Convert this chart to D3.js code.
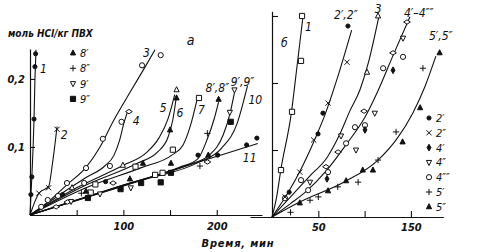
<!DOCTYPE html>
<html>
<head>
<meta charset="utf-8">
<script src="https://cdn.jsdelivr.net/npm/d3@7"></script>
<style>
  body { margin: 0; background: #fff; }
  svg text { font-family: "DejaVu Sans Condensed", "DejaVu Sans", sans-serif; font-style: italic; fill: #111; }
</style>
</head>
<body>
<svg width="490" height="252"></svg>
<script>
// ---- panel a: time (min) vs mol HCl / kg PVC ----
var curveA1 = [[0, 0], [1, 0.03], [2, 0.056], [4.3, 0.141], [5.3, 0.2], [6.4, 0.243]];
var curveA2 = [[0, 0], [9.6, 0.032], [20, 0.042], [24, 0.075], [29, 0.13]];
var curveA3 = [[0, 0], [20, 0.02], [40, 0.045], [60, 0.07], [75, 0.1], [90, 0.14], [107, 0.18], [123, 0.217], [134, 0.243]];
var curveA4 = [[0, 0], [30, 0.028], [60, 0.055], [80, 0.072], [90, 0.088], [96, 0.11], [100, 0.132], [104, 0.15]];
var curveA5 = [[0, 0], [50, 0.04], [100, 0.073], [125, 0.092], [138, 0.113], [148, 0.142], [155, 0.177]];
var curveA6 = [[0, 0], [60, 0.044], [115, 0.076], [137, 0.093], [148, 0.115], [153, 0.14], [157, 0.176]];
var curveA7 = [[0, 0], [60, 0.04], [120, 0.07], [152, 0.088], [164, 0.103], [172, 0.132], [179, 0.17]];
var curveA8 = [[0, 0], [100, 0.044], [160, 0.07], [180, 0.083], [190, 0.112], [197, 0.14], [202, 0.166]];
var curveA9 = [[0, 0], [100, 0.044], [170, 0.074], [192, 0.088], [207, 0.118], [214, 0.148], [219, 0.18]];
var curveA10 = [[0, 0], [120, 0.051], [180, 0.077], [205, 0.098], [222, 0.135], [233, 0.19]];
var curveA11 = [[0, 0], [244, 0.105]];

var circleA = [[12, 0.012], [19, 0.022], [39.6, 0.047], [60, 0.069], [78, 0.112], [120, 0.22], [140, 0.235], [98, 0.137], [85.6, 0.072], [58, 0.047], [30, 0.028]];
var diamondA = [[106, 0.152], [28, 0.012], [40, 0.019], [89, 0.047], [190, 0.078]];
var triUpA = [[157, 0.184], [99.5, 0.073], [45, 0.04]];
var triFillA = [[157, 0.172], [150, 0.125], [121, 0.076], [151, 0.076], [107, 0.053], [202, 0.17], [191, 0.088], [60, 0.035]];
var plusA = [[190, 0.12], [182, 0.072], [55, 0.032]];
var crossA = [[9.6, 0.032], [20, 0.04], [29, 0.126]];
var triDownA = [[219, 0.184], [214, 0.151], [108, 0.04], [44, 0.02], [75, 0.031]];
var squareA = [[181, 0.172], [113, 0.071], [153, 0.096], [134, 0.059], [142, 0.062], [70, 0.045], [65, 0.033]];
var squareFillA = [[215, 0.137], [62, 0.025], [97, 0.038], [119, 0.047], [140, 0.048], [151, 0.062]];
var dotA = [[1, 0.03], [2, 0.056], [4.3, 0.141], [5.3, 0.218], [6, 0.237], [180, 0.088], [201, 0.088], [232, 0.103], [243, 0.113], [81, 0.049], [35, 0.03]];

var labelsA = [["1", 10.7, 0.209], ["2", 33, 0.112], ["3", 121, 0.232], ["4", 110, 0.132], ["5", 139, 0.151],
  ["6", 157, 0.144], ["7", 180, 0.149], ["8′,8″", 188, 0.181], ["9′,9″", 215, 0.19], ["10", 234, 0.163], ["11", 228, 0.078]];
var legendA = [["triFill", "8′"], ["plus", "8″"], ["triDown", "9′"], ["squareFill", "9″"]];
var xTicksA = [50, 100, 150, 200];
var xLabelsA = [100, 200];
var yTicksA = [0.1, 0.2];

// ---- panel b ----
var curveB1 = [[0, 0], [5, 0.03], [9.7, 0.072], [20.5, 0.152], [27, 0.225], [33.5, 0.3]];
var curveB2 = [[0, 0], [18, 0.038], [30, 0.068], [45, 0.112], [57, 0.152], [70, 0.205], [86, 0.279]];
var curveB3 = [[0, 0], [20, 0.03], [40, 0.06], [60, 0.09], [72, 0.12], [84, 0.158], [95, 0.19], [104, 0.23], [115.5, 0.3]];
var curveB4 = [[0, 0], [20, 0.02], [36, 0.037], [58, 0.068], [80, 0.108], [100, 0.148], [115, 0.19], [131, 0.242], [149, 0.299]];
var curveB5 = [[0, 0], [31, 0.023], [79, 0.053], [114.5, 0.085], [135, 0.117], [152, 0.155], [165, 0.194], [177, 0.24]];

var squareB = [[9.7, 0.07], [21.6, 0.157], [31.3, 0.233], [32.4, 0.3]];
var dotB = [[82, 0.285], [55, 0.155], [49.7, 0.124], [18.5, 0.037]];
var crossB = [[81, 0.231], [60.5, 0.17], [45, 0.115], [30, 0.067], [14, 0.03]];
var triUpB = [[114.5, 0.3], [102.6, 0.216]];
var lensB = [[145.8, 0.291], [130.7, 0.245], [99.4, 0.158], [71.3, 0.097], [58.3, 0.075]];
var circleB = [[141.5, 0.239], [120, 0.222], [100.4, 0.137], [89.6, 0.134], [80, 0.11], [60.5, 0.067], [39, 0.04], [31.3, 0.055], [14, 0.028]];
var triDownB = [[141.5, 0.267], [111, 0.155], [74.5, 0.121], [90.7, 0.1], [41, 0.052]];
var diamondFillB = [[130.7, 0.219], [100.4, 0.13], [59.4, 0.057]];
var triFillB = [[181, 0.245], [160, 0.163], [141, 0.112], [109, 0.07], [98, 0.07], [80, 0.054], [60.5, 0.039], [30, 0.021]];
var plusB = [[163, 0.222], [134, 0.127], [114.5, 0.085], [93, 0.052], [71, 0.045], [50, 0.03], [41, 0.025], [20, 0.007]];

var labelsB = [["б", 9.7, 0.254], ["1", 35.6, 0.278], ["2′,2″", 67, 0.296], ["3", 111, 0.304], ["4′–4″″", 142.5, 0.2985], ["5′,5″", 169.5, 0.264]];
var legendB = [["dot", "2′"], ["cross", "2″"], ["diamondFill", "4′"], ["triDown", "4″"], ["circle", "4″″"], ["plus", "5′"], ["triFill", "5″"]];
var xTicksB = [50, 100, 150];
var xLabelsB = [50, 150];
var yTicksB = [0.1, 0.2, 0.3];

var svg = d3.select("svg");

var xa = d3.scaleLinear().domain([0, 248.5]).range([30, 262]),
    ya = d3.scaleLinear().domain([0, 0.244]).range([215, 49]);
var xb = d3.scaleLinear().domain([-23.8, 185]).range([250, 443.3]),
    yb = d3.scaleLinear().domain([0, 0.307]).range([217, 11.3]);

function marker(type, r) {
  switch (type) {
    case "circle": return "M" + r + ",0A" + r + "," + r + " 0 1,1 " + (-r) + ",0A" + r + "," + r + " 0 1,1 " + r + ",0Z";
    case "dot": var q = r * 0.8; return "M" + q + ",0A" + q + "," + q + " 0 1,1 " + (-q) + ",0A" + q + "," + q + " 0 1,1 " + q + ",0Z";
    case "square": case "squareFill": return "M" + (-r) + "," + (-r) + "h" + 2 * r + "v" + 2 * r + "h" + (-2 * r) + "Z";
    case "triUp": case "triFill": return "M0," + (-r * 1.2) + "L" + r + "," + r * 0.75 + "L" + (-r) + "," + r * 0.75 + "Z";
    case "triDown": return "M0," + r * 1.2 + "L" + r + "," + (-r * 0.75) + "L" + (-r) + "," + (-r * 0.75) + "Z";
    case "diamond": case "lens": return "M" + (-r * 1.3) + ",0L0," + (-r * 0.85) + "L" + r * 1.3 + ",0L0," + r * 0.85 + "Z";
    case "diamondFill": return "M" + (-r * 0.75) + ",0L0," + (-r * 1.3) + "L" + r * 0.75 + ",0L0," + r * 1.3 + "Z";
    case "plus": return "M" + (-r * 1.2) + ",0H" + r * 1.2 + "M0," + (-r * 1.2) + "V" + r * 1.2;
    case "cross": return "M" + (-r) + "," + (-r) + "L" + r + "," + r + "M" + (-r) + "," + r + "L" + r + "," + (-r);
  }
}
function isFilled(type) { return ["dot", "squareFill", "triFill", "diamondFill"].indexOf(type) >= 0; }
function isStroke(type) { return type == "plus" || type == "cross"; }

function styleMarker(sel, type) {
  sel.attr("d", marker(type, 2.6))
    .attr("fill", isStroke(type) ? "none" : (isFilled(type) ? "#111" : "#fff"))
    .attr("stroke", "#111")
    .attr("stroke-width", 1);
}

var line = function (x, y) {
  return d3.line().x(function (d) { return x(d[0]); }).y(function (d) { return y(d[1]); }).curve(d3.curveMonotoneX);
};

function drawPanel(x, y, curves, sets) {
  var g = svg.append("g");
  g.selectAll(".curve").data(curves).enter().append("path")
    .attr("class", "curve")
    .attr("d", line(x, y))
    .attr("fill", "none")
    .attr("stroke", "#111")
    .attr("stroke-width", 1.1);
  sets.forEach(function (s) {
    g.selectAll(null).data(s[1]).enter().append("path")
      .attr("transform", function (d) { return "translate(" + x(d[0]) + "," + y(d[1]) + ")"; })
      .call(styleMarker, s[0]);
  });
  return g;
}

function labels(x, y, data, size) {
  svg.selectAll(null).data(data).enter().append("text")
    .attr("x", function (d) { return x(d[1]); })
    .attr("y", function (d) { return y(d[2]); })
    .attr("font-size", size)
    .text(function (d) { return d[0]; });
}

function legend(x0, y0, step, items) {
  var g = svg.append("g").attr("transform", "translate(" + x0 + "," + y0 + ")");
  var row = g.selectAll("g").data(items).enter().append("g")
    .attr("transform", function (d, i) { return "translate(0," + i * step + ")"; });
  row.each(function (d) { d3.select(this).append("path").call(styleMarker, d[0]); });
  row.append("text").attr("x", 7).attr("y", 4).attr("font-size", 11).text(function (d) { return d[1]; });
}

// axes a
var fmt = function (d) { return String(d).replace(".", ","); };
svg.append("g").attr("transform", "translate(0,215)")
  .call(d3.axisBottom(xa).tickValues(xTicksA).tickSizeInner(-5).tickSizeOuter(0).tickPadding(7)
    .tickFormat(function (d) { return xLabelsA.indexOf(d) >= 0 ? d : ""; }));
svg.append("g").attr("transform", "translate(30,0)")
  .call(d3.axisLeft(ya).tickValues(yTicksA).tickSizeInner(-5).tickSizeOuter(0).tickPadding(5).tickFormat(fmt));

// axes b
svg.append("g").attr("transform", "translate(0,217)")
  .call(d3.axisBottom(xb).tickValues(xTicksB).tickSizeInner(-6).tickSizeOuter(0).tickPadding(6)
    .tickFormat(function (d) { return xLabelsB.indexOf(d) >= 0 ? d : ""; }));
svg.append("g").attr("transform", "translate(272,0)")
  .call(d3.axisLeft(yb).tickValues(yTicksB).tickSizeInner(-6).tickSizeOuter(0).tickFormat(""));

svg.selectAll(".domain").attr("stroke", "#111").attr("stroke-width", 1.2);
svg.selectAll(".tick line").attr("stroke", "#111").attr("stroke-width", 1.1);
svg.selectAll(".tick text").attr("font-size", 11).attr("font-weight", "bold")
  .attr("font-family", "\"DejaVu Sans Condensed\", \"DejaVu Sans\", sans-serif").attr("font-style", "italic").attr("fill", "#111");

drawPanel(xa, ya, [curveA1, curveA2, curveA3, curveA4, curveA5, curveA6, curveA7, curveA8, curveA9, curveA10, curveA11], [
  ["circle", circleA], ["diamond", diamondA], ["triUp", triUpA], ["square", squareA], ["triDown", triDownA],
  ["plus", plusA], ["cross", crossA], ["triFill", triFillA], ["squareFill", squareFillA], ["dot", dotA]]);

drawPanel(xb, yb, [curveB1, curveB2, curveB3, curveB4, curveB5], [
  ["square", squareB], ["lens", lensB], ["circle", circleB], ["triDown", triDownB], ["triUp", triUpB],
  ["plus", plusB], ["cross", crossB], ["triFill", triFillB], ["diamondFill", diamondFillB], ["dot", dotB]]);

labels(xa, ya, labelsA, 12);
labels(xb, yb, labelsB, 12);
svg.append("text").attr("x", xa(168)).attr("y", ya(0.25)).attr("font-size", 14).text("а");

legend(73, 53, 15.3, legendA);
legend(429, 118, 14.8, legendB);

svg.append("text").attr("x", 8).attr("y", 37).attr("font-size", 10).attr("font-weight", "bold")
  .text("моль HCl/кг ПВХ");
svg.append("text").attr("x", 238).attr("y", 247).attr("text-anchor", "middle").attr("font-size", 11)
  .attr("font-weight", "bold").attr("letter-spacing", 0.8).text("Время, мин");
</script>
</body>
</html>
